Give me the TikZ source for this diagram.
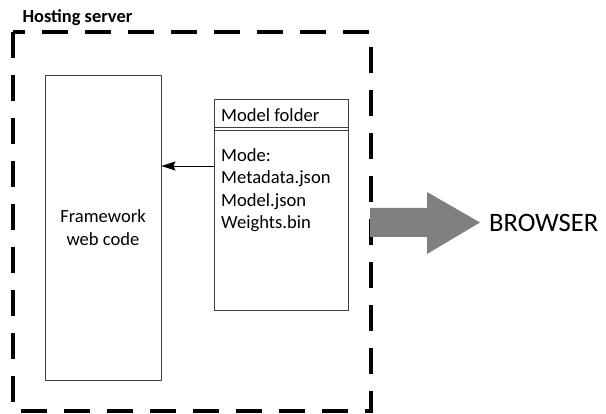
\documentclass[tikz,border=0pt]{standalone}
\usepackage{fontspec}
\setmainfont{Carlito}
\usetikzlibrary{positioning, arrows.meta}

\begin{document}
\begin{tikzpicture}[
    x=1pt, y=-1pt,
    box/.style={draw=black!75, line width=0.9pt, fill=white, inner sep=0pt},
    body/.style={font=\fontsize{18.6}{22.6}\selectfont},
    server/.style={draw, line width=3.6pt, dash pattern=on 26pt off 17pt},
    >={Stealth[length=14pt, width=9pt, inset=2pt]}
]
\useasboundingbox (0,0) rectangle (606,414);

\node[body, font=\fontsize{18.4}{22}\selectfont\bfseries, anchor=base west] (title) at (19,23) {Hosting server};
\draw[server] (13,32) rectangle (371,411);

\node[box, body, minimum width=116pt, minimum height=305pt, align=center] (fw) at (103,227.5) {Framework\\web code};

\node[box, minimum width=134pt, minimum height=211pt, anchor=north west] (folder) at (214,99) {};
\node[body, anchor=base west, inner sep=0pt] (head) at (221,122) {Model folder};
\draw[line width=0.9pt, black!75] (folder.west |- 0,127) -- (folder.east |- 0,127);
\draw[line width=0.9pt, black!75] (folder.west |- 0,130.5) -- (folder.east |- 0,130.5);
\node[body, anchor=north west, align=left, inner sep=0pt] (files) at (221,148) {Mode:\\Metadata.json\\Model.json\\Weights.bin};

\coordinate (tap) at (214,166);
\draw[->, line width=0.9pt] (tap) -- (fw.east |- tap);

% gray arrow to the browser
\fill[black!50] (370,208) -- (427,208) -- (427,192) -- (480,222.5) -- (427,254) -- (427,237) -- (370,237) -- cycle;
\node[font=\fontsize{26.6}{30}\selectfont, anchor=west, inner sep=0pt] (browser) at (489,223) {BROWSER};
\end{tikzpicture}
\end{document}
